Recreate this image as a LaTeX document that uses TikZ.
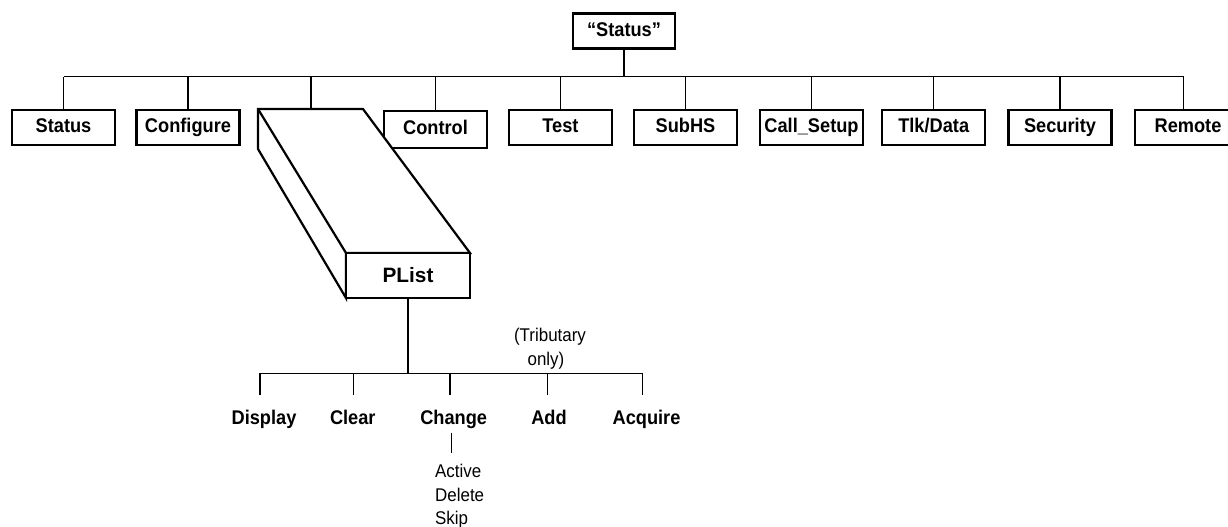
\documentclass[tikz,border=0pt]{standalone}
\usepackage{fontspec}
\setmainfont{Liberation Sans}
\newfontfamily\tallsans[FakeStretch=0.92]{Liberation Sans}
\begin{document}
\begin{tikzpicture}[x=1pt,y=-1pt,
  box/.style={draw, line width=2.4pt, fill=white, minimum width=103pt, minimum height=35pt,
    inner sep=0pt, font=\tallsans\bfseries\fontsize{19.8}{24}\selectfont, text height=14.2pt, text depth=4pt},
  solid3d/.style={draw, line width=2.2pt, fill=white, line join=miter},
  link/.style={line width=1.1pt},
  lab/.style={font=\tallsans\bfseries\fontsize{19.8}{24}\selectfont, inner sep=0pt, anchor=base},
  small/.style={font=\tallsans\fontsize{18.4}{24}\selectfont, inner sep=0pt, anchor=base}]
\clip (0,0) rectangle (1228,527);
\fill[white] (0,0) rectangle (1228,527);

% root
\node[box, minimum width=102pt] (root) at (624,31) {“Status”};

% top row
\coordinate (bus) at (0,76.7);
\node[box] (status)    at (63.5,127.2)  {Status};
\node[box] (configure) at (188,127.2)   {Configure};
\node[box, minimum height=37pt] (control) at (435.5,129.5) {Control};
\node[box] (test)      at (560.5,127.2) {Test};
\node[box] (subhs)     at (685.5,127.2) {SubHS};
\node[box] (callsetup) at (811.5,127.2) {Call\_Setup};
\node[box] (tlk)       at (933.7,127.2) {Tlk/Data};
\node[box] (security)  at (1060,127.2)  {Security};
\node[box] (remote)    at (1186.5,127.2){\hspace*{3pt}Remote};
\coordinate (remtop) at (1183.5,108.7);
\coordinate (ptop) at (311,109);

\draw[link] (root.south) -- (root.south |- bus);
\draw[link] (status.north |- bus) -- (remtop |- bus);
\foreach \n in {status,configure,control,test,subhs,callsetup,tlk,security}
  \draw[link] (\n.north) -- (\n.north |- bus);
\draw[link] (remtop) -- (remtop |- bus);
\draw[link] (ptop) -- (ptop |- bus);

% PList 3D block
\draw[solid3d] (258,109) -- (363,109) -- (470,253) -- (346,253) -- (346,298) -- (258,149) -- cycle;
\draw[line width=2.2pt] (258,109) -- (346,253);
\node[draw, line width=2.2pt, fill=white, minimum width=124pt, minimum height=45pt, inner sep=0pt,
  font=\bfseries\fontsize{20.8}{24}\selectfont] (plist) at (408,275.5) {PList};

% lower tree
\coordinate (bus2) at (0,373.3);
\coordinate (s1) at (260,395.3);
\coordinate (s2) at (353.3,395.3);
\coordinate (s3) at (450,395.3);
\coordinate (s4) at (547.3,395.3);
\coordinate (s5) at (642.7,395.3);
\draw[link] (plist.south) -- (plist.south |- bus2);
\draw[link] (s1 |- bus2) -- (s5 |- bus2);
\foreach \s in {s1,s2,s3,s4,s5}
  \draw[link] (\s |- bus2) -- (\s);

\node[lab] (display) at (264,424)   {Display};
\node[lab] (clear)   at (352.8,424) {Clear};
\node[lab] (change)  at (453.7,424) {Change};
\node[lab] (add)     at (549,424)   {Add};
\node[lab] (acquire) at (646.5,424) {Acquire};

\node[small] (trib1) at (550,341.7) {(Tributary};
\node[small] (trib2) at (546,365.7) {only)};

\coordinate (c1) at (451.7,453.3);
\draw[link] ([yshift=-4.2pt]change.south -| c1) -- (c1);
\node[small, anchor=base west] (active) at (435,477.5) {Active};
\node[small, anchor=base west] (delete) at (435,501.2) {Delete};
\node[small, anchor=base west] (skip)   at (435,524.8) {Skip};
\end{tikzpicture}
\end{document}
